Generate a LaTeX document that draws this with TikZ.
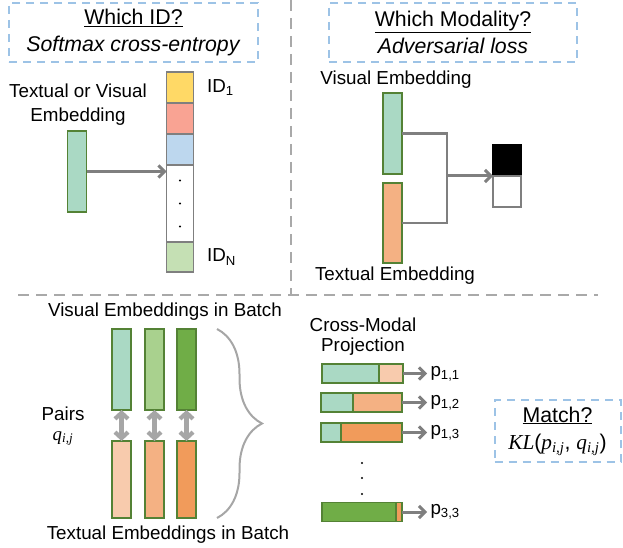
\documentclass[tikz,border=0pt]{standalone}
\usepackage{fontspec}
\setmainfont{Liberation Sans}
\setsansfont{Liberation Sans}
\newfontfamily\mathserif{Liberation Serif}
\usepackage{tikz}
\usetikzlibrary{calc}
\usetikzlibrary{positioning}
\usetikzlibrary{chains,arrows.meta,decorations.pathreplacing}
\definecolor{visA}{HTML}{AAD9C4}
\definecolor{visB}{HTML}{A9D18E}
\definecolor{visC}{HTML}{70AD47}
\definecolor{txtA}{HTML}{F8CBAD}
\definecolor{txtB}{HTML}{F4B183}
\definecolor{txtC}{HTML}{F19B5B}
\definecolor{idY}{HTML}{FFD966}
\definecolor{idR}{HTML}{F9A393}
\definecolor{idB}{HTML}{BDD7EE}
\definecolor{idG}{HTML}{C5E0B4}
\definecolor{barline}{HTML}{548235}
\definecolor{cellline}{HTML}{7F7F7F}
\definecolor{qblue}{HTML}{9DC3E6}
\definecolor{arrowgray}{HTML}{7F7F7F}
\definecolor{pairgray}{HTML}{A6A6A6}
\definecolor{divgray}{HTML}{A9A9A9}
\newcommand{\mvar}[2]{{\mathserif\itshape #1}\textsubscript{\mathserif\itshape #2}}
\tikzset{
	>={Straight Barb[length=6pt,width=12pt]},
	bar/.style={
		rectangle,
		draw=barline, line width=1.2pt,
		outer sep=0pt,
		minimum width=19pt,
		minimum height=81pt},
	idcell/.style={
		rectangle,
		draw=cellline, line width=1.2pt,
		outer sep=0pt,
		minimum width=27pt,
		minimum height=31pt,
		on chain},
	disc/.style={
		rectangle,
		draw=cellline, line width=1.2pt,
		outer sep=0pt,
		minimum width=28pt,
		minimum height=31pt},
	projbar/.style={
		rectangle,
		draw=barline, line width=1.2pt,
		outer sep=0pt, inner sep=0pt,
		minimum height=19pt},
	quest/.style={
		rectangle,
		draw=qblue, line width=2pt,
		dash pattern=on 8pt off 6pt,
		font=\fontsize{21.3}{27}\selectfont,
		align=center},
	line/.style={draw=arrowgray, line width=3pt, ->},
	link/.style={draw=arrowgray, line width=2.2pt},
	pairline/.style={draw=pairgray, line width=4.2pt,
		{Straight Barb[length=6pt,width=13pt]}-{Straight Barb[length=6pt,width=13pt]}},
	divider/.style={draw=divgray, line width=2.5pt, dash pattern=on 11pt off 7pt},
	decoration={brace, amplitude=45pt},
	tuborg/.style={decorate, draw=pairgray, line width=2pt},
}
\begin{document}
\begin{tikzpicture}
	[x=1pt, y=-1pt, node distance=0pt,
	start chain=going below,
	font=\fontsize{18.8}{24}\selectfont]
	\useasboundingbox (0,0) rectangle (623,548);
	% dividers
	\draw[divider] (291,0) -- (291,295);
	\draw[divider] (18,295) -- (598,295);
	
	% which ID
	\node[quest, minimum width=249pt, minimum height=59pt] (idq) at (133.5,32.5) {\underline{Which ID?}\\\textit{Softmax cross-entropy}};
	\node[align=center] (embtxt) at (78,105) {Textual or Visual\\Embedding};
	\node[bar, fill=visA] (emb) at (77,171.5) {};
	\node[idcell, fill=idY] (id1) at (180,87.5) {};
	\node[idcell, fill=idR] (id2) {};
	\node[idcell, fill=idB] (id3) {};
	\node[idcell, fill=white, minimum height=77pt] (idd) {};
	\node[idcell, fill=idG, minimum height=30pt] (idn) {};
	\fill ($(idd.center)+(0,-23)$) circle (1.2pt);
	\fill (idd.center) circle (1.2pt);
	\fill ($(idd.center)+(0,23)$) circle (1.2pt);
	\node[right=10pt of id1] (id1txt) {ID\textsubscript{1}};
	\node[right=10pt of idn] (idntxt) {ID\textsubscript{N}};
	\draw[line] (emb.east) -- (emb.east -| idd.west);
	
	% which modality
	\node[quest, minimum width=248pt, minimum height=59pt] (modq) at (453,32.5) {\underline{Which Modality?}\\\textit{Adversarial loss}};
	\node (vistxt) at (396,80) {Visual Embedding};
	\node[bar, fill=visA] (vis) at (392.5,133.5) {};
	\node[bar, fill=txtB, minimum height=80pt] (txt) at (392.5,223) {};
	\node (txttxt) at (395,276) {Textual Embedding};
	\coordinate (fork) at (447,176);
	\draw[link] (vis.east) -| (fork) |- (txt.east);
	\node[disc, draw=black, fill=black] (real) at (507,160.5) {};
	\node[disc, fill=white, below=0pt of real] (fake) {};
	\draw[line] (fork) -- (fork -| real.west);
	
	% batch
	\node (vbtxt) at (165,312) {Visual Embeddings in Batch};
	\node[bar, fill=visA] (v1) at (121.5,369.5) {};
	\node[bar, fill=visB, right=14pt of v1] (v2) {};
	\node[bar, fill=visC, right=13pt of v2] (v3) {};
	\node[bar, fill=txtA, minimum height=77pt] (t1) at (121.5,479.5) {};
	\node[bar, fill=txtB, minimum height=77pt, right=14pt of t1] (t2) {};
	\node[bar, fill=txtC, minimum height=77pt, right=13pt of t2] (t3) {};
	\draw[pairline] (v1) -- (t1);
	\draw[pairline] (v2) -- (t2);
	\draw[pairline] (v3) -- (t3);
	\node[align=center, font=\fontsize{18.8}{20}\selectfont] (pairs) at (63,426) {Pairs\\\mvar{q}{i,j}};
	\draw[tuborg] ($(v3.north east)+(21,0)$) -- ($(t3.south east)+(21,0)$);
	\node (tbtxt) at (168,535) {Textual Embeddings in Batch};
	
	% projection
	\node[align=center, font=\fontsize{18.8}{20}\selectfont] (cmtxt) at (363,337) {Cross-Modal\\Projection};
	\node[projbar, fill=visA, minimum width=57pt] (p11a) at (350.5,373.5) {};
	\node[projbar, fill=txtA, minimum width=24pt, right=0pt of p11a] (p11b) {};
	\node[projbar, fill=visA, minimum width=32pt] (p12a) at (337,402.5) {};
	\node[projbar, fill=txtB, minimum width=49pt, right=0pt of p12a] (p12b) {};
	\node[projbar, fill=visA, minimum width=20pt] (p13a) at (331,432.5) {};
	\node[projbar, fill=txtC, minimum width=61pt, right=0pt of p13a] (p13b) {};
	\node[projbar, fill=visC, minimum width=74pt] (p33a) at (359,512) {};
	\node[projbar, fill=txtC, minimum width=6pt, right=0pt of p33a] (p33b) {};
	\node[right=24pt of p11b] (p11) {p\textsubscript{1,1}};
	\node[right=25pt of p12b] (p12) {p\textsubscript{1,2}};
	\node[right=25pt of p13b] (p13) {p\textsubscript{1,3}};
	\node[right=25pt of p33b] (p33) {p\textsubscript{3,3}};
	\draw[line] (p11b.east) -- (p11b.east -| p11.west);
	\draw[line] (p12b.east) -- (p12b.east -| p12.west);
	\draw[line] (p13b.east) -- (p13b.east -| p13.west);
	\draw[line] (p33b.east) -- (p33b.east -| p33.west);
	\fill (362,463) circle (1.2pt);
	\fill (362,478) circle (1.2pt);
	\fill (362,494) circle (1.2pt);
	
	% match
	\node[quest, minimum width=126pt, minimum height=62pt] (matchq) at (557.5,431) {\underline{Match?}\\{\mathserif\itshape KL}({\mathserif\itshape p}\textsubscript{\mathserif\itshape i,j}, \mvar{q}{i,j})};
\end{tikzpicture}
\end{document}
